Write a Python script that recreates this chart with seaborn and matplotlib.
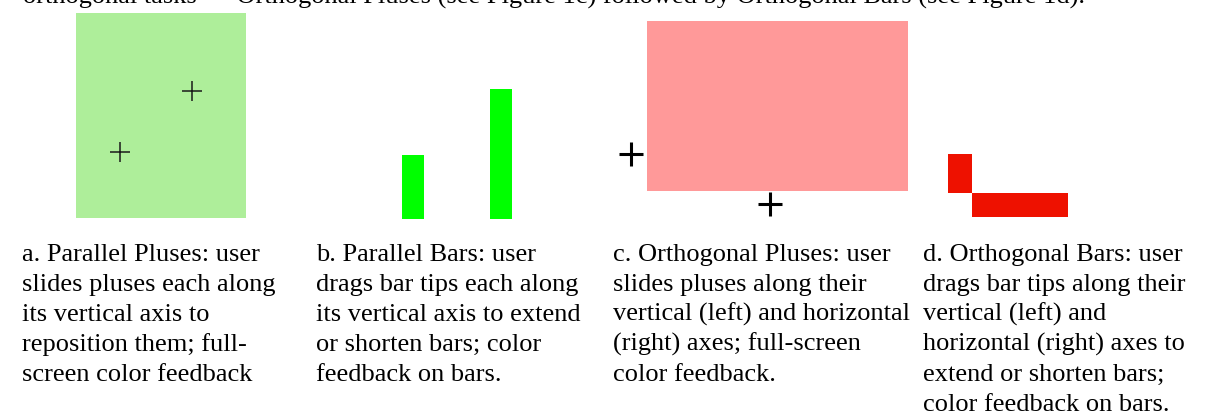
import matplotlib
matplotlib.use("Agg")
import matplotlib.pyplot as plt
import seaborn as sns

W, H = 1205, 414

# a. parallel pluses (position across, value up the green panel)
plus_pos = [0.26, 0.68]
plus_vals = [0.32, 0.62]

# b. parallel bars
bar_names = ["left", "right"]
bar_vals = [0.31, 0.63]

# c. orthogonal pluses: one on the vertical axis, one on the horizontal
ortho_plus_v = [0.22]
ortho_plus_h = [0.47]

# d. orthogonal bars
ortho_bar_v = [0.23]
ortho_bar_h = [0.48]

top_line = "orthogonal tasks — Orthogonal Pluses (see Figure 1c) followed by Orthogonal Bars (see Figure 1d)."
caption_a = ["a. Parallel Pluses: user", "slides pluses each along", "its vertical axis to",
             "reposition them; full-", "screen color feedback"]
caption_b = ["b. Parallel Bars: user", "drags bar tips each along", "its vertical axis to extend",
             "or shorten bars; color", "feedback on bars."]
caption_c = ["c. Orthogonal Pluses: user", "slides pluses along their", "vertical (left) and horizontal",
             "(right) axes; full-screen", "color feedback."]
caption_d = ["d. Orthogonal Bars: user", "drags bar tips along their", "vertical (left) and",
             "horizontal (right) axes to", "extend or shorten bars;", "color feedback on bars."]

LIGHT_GREEN = "#AEEE9A"
GREEN = "#00FF00"
PINK = "#FF9999"
RED = "#EE1100"

sns.set_style("white")
plt.rcParams["font.family"] = ["Liberation Serif", "DejaVu Serif"]
plt.rcParams["text.color"] = "black"

fig = plt.figure(figsize=(W / 100, H / 100), dpi=100)


def box(x0, y0, x1, y1):
    # pixel box, measured from the top left corner
    return fig.add_axes([x0 / W, 1 - y1 / H, (x1 - x0) / W, (y1 - y0) / H])


def bare(ax, face="none"):
    ax.set_facecolor(face)
    ax.set_xticks([])
    ax.set_yticks([])
    ax.set_xlabel("")
    ax.set_ylabel("")
    for s in ax.spines.values():
        s.set_visible(False)


#panel a
ax_a = box(76, 14, 246, 219)
sns.scatterplot(x=plus_pos, y=plus_vals, marker="+", s=225, color="#1a1a1a",
                linewidth=1.1, ax=ax_a)
ax_a.set_xlim(0, 1)
ax_a.set_ylim(0, 1)
bare(ax_a, LIGHT_GREEN)

#panel b
ax_b = box(369, 14, 545, 220)
sns.barplot(x=bar_names, y=bar_vals, color=GREEN, saturation=1, width=0.25,
            linewidth=0, ax=ax_b)
ax_b.set_ylim(0, 1)
bare(ax_b)

#panel c: pink feedback area plus two strips holding the pluses
ax_c = box(647, 22, 908, 192)
ax_c.set_xlim(0, 1)
ax_c.set_ylim(0, 1)
bare(ax_c, PINK)

ax_cl = box(619, 22, 643, 192)
sns.scatterplot(x=[0] * len(ortho_plus_v), y=ortho_plus_v, marker="+", s=300,
                color="black", linewidth=2.2, ax=ax_cl, clip_on=False)
ax_cl.set_xlim(-1, 1)
ax_cl.set_ylim(0, 1)
bare(ax_cl)

ax_cb = box(647, 193, 908, 217)
sns.scatterplot(x=ortho_plus_h, y=[0] * len(ortho_plus_h), marker="+", s=300,
                color="black", linewidth=2.2, ax=ax_cb, clip_on=False)
ax_cb.set_xlim(0, 1)
ax_cb.set_ylim(-1, 1)
bare(ax_cb)

#panel d: vertical bar on the left axis, horizontal bar on the bottom axis
ax_dv = box(948, 23.7, 972, 193.7)
sns.barplot(x=["v"], y=ortho_bar_v, color=RED, saturation=1, width=1,
            linewidth=0, ax=ax_dv)
ax_dv.set_xlim(-0.5, 0.5)
ax_dv.set_ylim(0, 1)
bare(ax_dv)

ax_dh = box(972, 193.7, 1172, 217.7)
sns.barplot(x=ortho_bar_h, y=["h"], orient="h", color=RED, saturation=1, width=1,
            linewidth=0, ax=ax_dh)
ax_dh.set_xlim(0, 1)
ax_dh.set_ylim(-0.5, 0.5)
bare(ax_dh)

# captions
fs = 19
fig.text(23 / W, 1 - 4 / H, top_line, fontsize=fs, va="baseline", ha="left")
for x0, lines in [(22, caption_a), (316, caption_b), (613, caption_c), (923, caption_d)]:
    for i, line in enumerate(lines):
        fig.text(x0 / W, 1 - (261 + 30 * i) / H, line, fontsize=fs,
                 va="baseline", ha="left")

fig.savefig("out.png", dpi=100)
